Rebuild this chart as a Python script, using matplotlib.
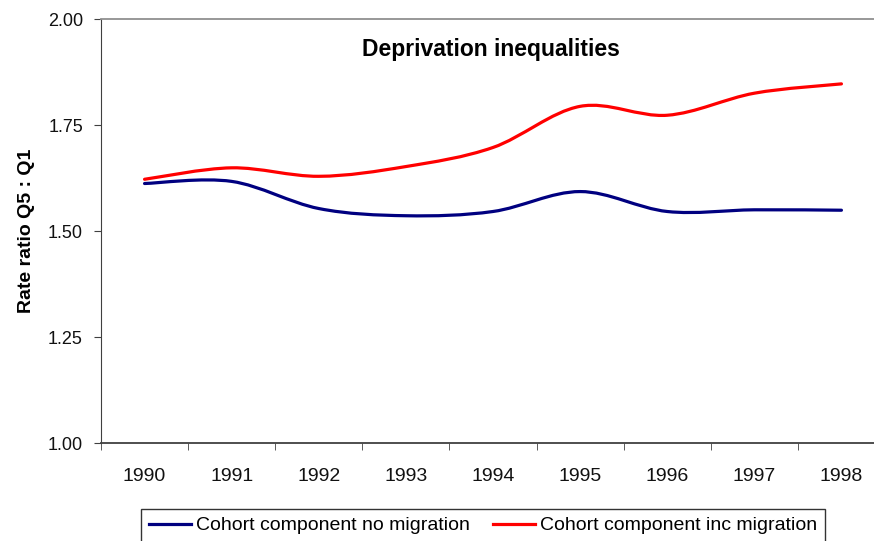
import numpy as np
import matplotlib.pyplot as plt
from matplotlib.path import Path
from matplotlib.patches import PathPatch
from matplotlib.lines import Line2D

plt.rcParams['font.family'] = ['Liberation Sans', 'DejaVu Sans']

years = ['1990', '1991', '1992', '1993', '1994', '1995', '1996', '1997', '1998']
no_migration = [1.612, 1.617, 1.553, 1.536, 1.546, 1.593, 1.546, 1.550, 1.549]
inc_migration = [1.622, 1.649, 1.629, 1.652, 1.697, 1.794, 1.773, 1.825, 1.847]


# Excel style smoothed line: Catmull-Rom segments drawn as cubic beziers
def smooth_path(xs, ys):
    pts = np.column_stack([xs, ys]).astype(float)
    n = len(pts)
    verts = [pts[0]]
    codes = [Path.MOVETO]
    for i in range(n - 1):
        p0 = pts[max(i - 1, 0)]
        p1 = pts[i]
        p2 = pts[i + 1]
        p3 = pts[min(i + 2, n - 1)]
        c1 = p1 + (p2 - p0) / 6.0
        c2 = p2 - (p3 - p1) / 6.0
        verts += [c1, c2, p2]
        codes += [Path.CURVE4] * 3
    return Path(verts, codes)


fig = plt.figure(figsize=(8.74, 5.41), dpi=100)
ax = fig.add_axes([101 / 874, 1 - 443 / 541, 784 / 874, 424 / 541])

x = np.arange(len(years))
for vals, col in [(no_migration, '#000080'), (inc_migration, '#ff0000')]:
    ax.add_patch(PathPatch(smooth_path(x, vals), facecolor='none',
                           edgecolor=col, linewidth=2.3, capstyle='round'))

ax.set_xlim(-0.5, len(years) - 0.5)
ax.set_ylim(1.0, 2.0)
ax.set_yticks([1.00, 1.25, 1.50, 1.75, 2.00])
ax.set_yticklabels(['1.00', '1.25', '1.50', '1.75', '2.00'])
ax.set_xticks(x)
ax.set_xticklabels(years)
ax.set_xticks(np.arange(len(years) + 1) - 0.5, minor=True)
ax.tick_params(axis='x', which='major', length=0, pad=18, labelsize=14, labelcolor='#111111')
ax.tick_params(axis='x', which='minor', length=5, direction='out', color='#404040')
ax.tick_params(axis='y', length=5, direction='out', pad=8, labelsize=13,
               color='#404040', labelcolor='#111111')

ax.spines['right'].set_visible(False)
ax.spines['top'].set_color('#909090')
ax.spines['top'].set_linewidth(1.3)
ax.spines['left'].set_color('#404040')
ax.spines['bottom'].set_color('#404040')
ax.spines['bottom'].set_linewidth(1.3)

ax.set_ylabel('Rate ratio Q5 : Q1', fontweight='bold', fontsize=14, labelpad=9)
ax.text(0.497, 0.928, 'Deprivation inequalities', transform=ax.transAxes,
        ha='center', va='center', fontweight='bold', fontsize=16.5)

handles = [Line2D([], [], color='#000080', linewidth=2.3),
           Line2D([], [], color='#ff0000', linewidth=2.3)]
leg = fig.legend(handles, ['Cohort component no migration', 'Cohort component inc migration'],
                 loc='upper left', bbox_to_anchor=(141 / 874, 1 - 509 / 541),
                 ncol=2, fontsize=14, frameon=True, fancybox=False,
                 edgecolor='black', borderaxespad=0, handlelength=2.16,
                 handletextpad=0.26, columnspacing=1.2, borderpad=0.4)
leg.get_frame().set_linewidth(1.0)

fig.savefig('out.png', dpi=100)
